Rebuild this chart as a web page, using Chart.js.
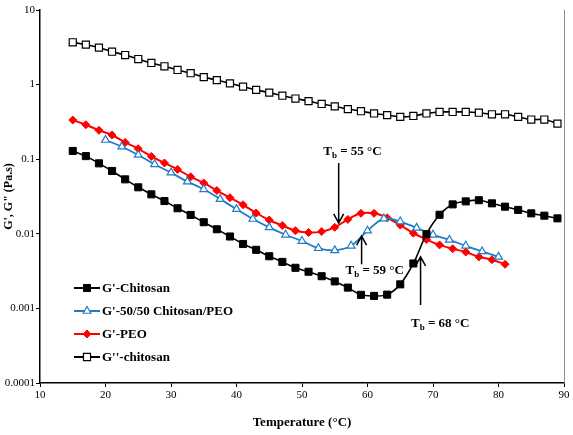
<!DOCTYPE html>
<html>
<head>
<meta charset="utf-8">
<script src="https://cdn.jsdelivr.net/npm/chart.js@4.4.0/dist/chart.umd.min.js"></script>
<style>
    html, body { margin: 0; padding: 0; background: #ffffff; }
</style>
</head>
<body>
<canvas id="graficoReologia" width="573" height="435"></canvas>
<script>
// temperaturas (°C)
const tempChitosan = [15,17,19,21,23,25,27,29,31,33,35,37,39,41,43,45,47,49,51,53,55,57,59,61,63,65,67,69,71,73,75,77,79,81,83,85,87,89];
const tempPeo = [15,17,19,21,23,25,27,29,31,33,35,37,39,41,43,45,47,49,51,53,55,57,59,61,63,65,67,69,71,73,75,77,79,81];
const tempMezcla = [20,22.5,25,27.5,30,32.5,35,37.5,40,42.5,45,47.5,50,52.5,55,57.5,60,62.5,65,67.5,70,72.5,75,77.5,80];

// valores (Pa.s)
const gPrimaChitosan = [0.129,0.110,0.088,0.0695,0.0537,0.0420,0.0338,0.0275,0.0220,0.0179,0.0143,0.0115,0.0092,0.0073,0.0061,0.0050,0.0042,0.0035,0.0031,0.0027,0.0023,0.0019,0.00152,0.00147,0.00153,0.0021,0.0040,0.0099,0.018,0.0248,0.0272,0.0282,0.0256,0.0231,0.0209,0.0188,0.0175,0.0161];
const gPrimaMezcla = [0.181,0.147,0.114,0.0855,0.066,0.050,0.0395,0.0292,0.0214,0.0158,0.0122,0.0097,0.0080,0.0064,0.0060,0.0069,0.0110,0.0160,0.0146,0.0120,0.0097,0.0083,0.0069,0.0058,0.0049];
const gPrimaPeo = [0.335,0.290,0.244,0.211,0.168,0.138,0.109,0.089,0.073,0.058,0.048,0.038,0.0305,0.0245,0.019,0.0153,0.0129,0.011,0.0104,0.0107,0.0122,0.0156,0.0188,0.0188,0.0164,0.0131,0.0102,0.0084,0.0071,0.0063,0.0057,0.0049,0.0045,0.0039];
const gSegundaChitosan = [3.69,3.43,3.13,2.76,2.49,2.20,1.95,1.76,1.57,1.42,1.26,1.15,1.04,0.94,0.85,0.78,0.71,0.65,0.60,0.55,0.51,0.47,0.44,0.41,0.39,0.37,0.38,0.41,0.43,0.43,0.43,0.42,0.40,0.40,0.37,0.34,0.34,0.30];

const etiquetas = ["G'-Chitosan", "G'-50/50 Chitosan/PEO", "G'-PEO", "G''-chitosan"];
const ticksY = [0.0001, 0.001, 0.01, 0.1, 1, 10];
const ticksYTexto = ['0.0001', '0.001', '0.01', '0.1', '1', '10'];

// flechas de Tb (temperatura, valor punta, valor cola, texto)
const anotaciones = [
    { x: 55.6, tip: 0.0140, tail: 0.089, tx: 57.7, ty: 0.125, num: '55' },
    { x: 59.1, tip: 0.0093, tail: 0.0039, tx: 61.1, ty: 0.00317, num: '59' },
    { x: 68.1, tip: 0.0049, tail: 0.00111, tx: 71.1, ty: 0.000618, num: '68' }
];

const serif = "'Liberation Serif', 'Times New Roman', serif";
const azul = 'rgb(30, 125, 200)';

function puntos(xs, ys){
    return xs.map(function(x, i){ return { x: x, y: ys[i] }; });
}

const datasets = [
    {
        label: etiquetas[0],
        data: puntos(tempChitosan, gPrimaChitosan),
        borderColor: '#000000', backgroundColor: '#000000',
        borderWidth: 1.6, pointStyle: 'rect', pointRadius: 5,
        pointBorderWidth: 1, pointBackgroundColor: '#000000', pointBorderColor: '#000000'
    },
    {
        label: etiquetas[1],
        data: puntos(tempMezcla, gPrimaMezcla),
        borderColor: azul, backgroundColor: azul,
        borderWidth: 1.8, pointStyle: 'triangle', pointRadius: 4.5,
        pointBorderWidth: 1.2, pointBackgroundColor: '#ffffff', pointBorderColor: azul
    },
    {
        label: etiquetas[2],
        data: puntos(tempPeo, gPrimaPeo),
        borderColor: '#ff0000', backgroundColor: '#ff0000',
        borderWidth: 2, pointStyle: 'rectRot', pointRadius: 4,
        pointBorderWidth: 1, pointBackgroundColor: '#ff0000', pointBorderColor: '#ff0000'
    },
    {
        label: etiquetas[3],
        data: puntos(tempChitosan, gSegundaChitosan),
        borderColor: '#000000', backgroundColor: '#000000',
        borderWidth: 1.6, pointStyle: 'rect', pointRadius: 5,
        pointBorderWidth: 1.2, pointBackgroundColor: '#ffffff', pointBorderColor: '#000000'
    }
];

function flecha(ctx, x, y1, y2){
    // linea vertical con punta abierta en y1
    const dir = y1 > y2 ? 1 : -1;
    ctx.beginPath();
    ctx.moveTo(x, y2);
    ctx.lineTo(x, y1);
    ctx.moveTo(x - 5, y1 - dir * 9);
    ctx.lineTo(x, y1);
    ctx.lineTo(x + 5, y1 - dir * 9);
    ctx.stroke();
}

function textoTb(ctx, cx, cy, num){
    const grande = 'bold 13px ' + serif;
    const chico = 'bold 9px ' + serif;
    const resto = ' = ' + num + ' \u00B0C';
    ctx.font = grande;
    const wT = ctx.measureText('T').width;
    const wR = ctx.measureText(resto).width;
    ctx.font = chico;
    const wB = ctx.measureText('b').width;
    let x = cx - (wT + wB + wR) / 2;
    ctx.textBaseline = 'middle';
    ctx.textAlign = 'left';
    ctx.fillStyle = '#000';
    ctx.font = grande;
    ctx.fillText('T', x, cy);
    x += wT;
    ctx.font = chico;
    ctx.fillText('b', x, cy + 4);
    x += wB;
    ctx.font = grande;
    ctx.fillText(resto, x, cy);
}

const extras = {
    id: 'extras',
    afterDatasetsDraw(chart){
        const ctx = chart.ctx;
        const area = chart.chartArea;
        const sx = chart.scales.x;
        const sy = chart.scales.y;
        ctx.save();

        // borde derecho
        ctx.strokeStyle = '#8c8c8c';
        ctx.lineWidth = 1;
        ctx.beginPath();
        ctx.moveTo(area.right + 0.5, area.top);
        ctx.lineTo(area.right + 0.5, area.bottom);
        ctx.stroke();

        // flechas y textos
        ctx.strokeStyle = '#000';
        ctx.lineWidth = 1.5;
        anotaciones.forEach(function(a){
            const px = sx.getPixelForValue(a.x);
            flecha(ctx, px, sy.getPixelForValue(a.tip), sy.getPixelForValue(a.tail));
            textoTb(ctx, sx.getPixelForValue(a.tx), sy.getPixelForValue(a.ty), a.num);
        });

        // leyenda dentro del grafico
        const x0 = area.left + 34;
        let y0 = area.top + 278;
        chart.data.datasets.forEach(function(ds){
            ctx.strokeStyle = ds.borderColor;
            ctx.lineWidth = 2;
            ctx.beginPath();
            ctx.moveTo(x0, y0);
            ctx.lineTo(x0 + 26, y0);
            ctx.stroke();
            ctx.fillStyle = ds.pointBackgroundColor;
            ctx.strokeStyle = ds.pointBorderColor;
            ctx.lineWidth = ds.pointBorderWidth;
            Chart.helpers.drawPoint(ctx, {
                pointStyle: ds.pointStyle,
                rotation: 0,
                radius: ds.pointRadius,
                borderWidth: ds.pointBorderWidth
            }, x0 + 13, y0);
            ctx.fillStyle = '#000';
            ctx.font = 'bold 13px ' + serif;
            ctx.textAlign = 'left';
            ctx.textBaseline = 'middle';
            ctx.fillText(ds.label, x0 + 28, y0 + 1);
            y0 += 23;
        });
        ctx.restore();
    }
};

Chart.defaults.font.family = serif;
Chart.defaults.color = '#000';

new Chart(document.getElementById('graficoReologia'), {
    type: 'line',
    plugins: [extras],
    data: { datasets: datasets },
    options: {
        responsive: false,
        animation: false,
        maintainAspectRatio: false,
        layout: { padding: { top: 10, right: 9, left: 0, bottom: 0 } },
        elements: { line: { tension: 0.35 } },
        plugins: {
            legend: { display: false },
            tooltip: { enabled: false }
        },
        scales: {
            x: {
                type: 'linear',
                min: 10,
                max: 90,
                ticks: { stepSize: 10, font: { size: 11 }, padding: 2, maxRotation: 0 },
                grid: { drawOnChartArea: false, drawTicks: true, tickLength: 4, color: '#000' },
                border: { color: '#000', width: 1.5 },
                title: {
                    display: true,
                    text: 'Temperature (\u00B0C)',
                    font: { size: 13, weight: 'bold' },
                    padding: { top: 0, bottom: 5 }
                },
                afterFit: function(scale){ scale.height = 52; }
            },
            y: {
                type: 'logarithmic',
                min: 0.0001,
                max: 10,
                afterBuildTicks: function(scale){
                    scale.ticks = ticksY.map(function(v){ return { value: v }; });
                },
                ticks: {
                    font: { size: 11 },
                    padding: 1,
                    callback: function(value, index){ return ticksYTexto[index]; }
                },
                grid: { drawOnChartArea: false, drawTicks: true, tickLength: 4, color: '#000' },
                border: { color: '#000', width: 1.5 },
                title: {
                    display: true,
                    text: "G', G\" (Pa.s)",
                    font: { size: 12, weight: 'bold' },
                    padding: { top: 2, bottom: 0 }
                },
                afterFit: function(scale){ scale.width = 40; }
            }
        }
    }
});
</script>
</body>
</html>
